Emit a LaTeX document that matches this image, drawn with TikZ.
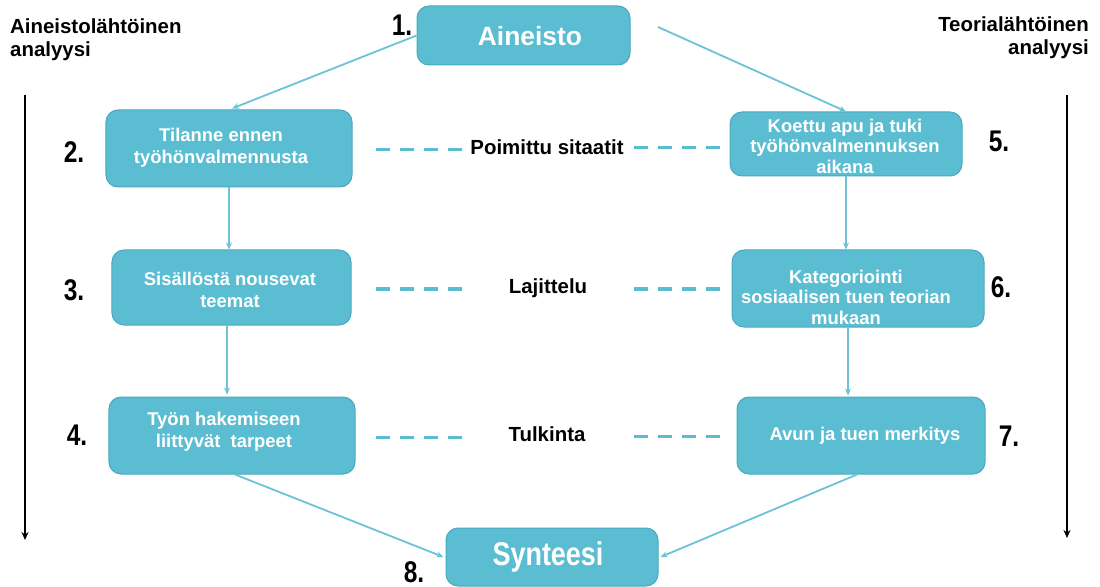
\documentclass[tikz,border=0pt]{standalone}
\usepackage{fontspec}
\setmainfont{Liberation Sans}
\usetikzlibrary{arrows.meta,calc}
\definecolor{boxfill}{HTML}{5BBDD1}
\definecolor{boxdraw}{HTML}{4BA9BF}
\definecolor{connc}{HTML}{6CC3D5}
\newcommand\narrowtxt[1]{\scalebox{0.82}[1]{#1}}
\begin{document}
\begin{tikzpicture}[x=1bp,y=-1bp,
  box/.style={draw=boxdraw, fill=boxfill, line width=1bp, rounded corners=12bp, inner sep=0pt},
  boxtext/.style={text=white, font=\bfseries\fontsize{18.5}{22}\selectfont, align=center, inner sep=0pt},
  boxtextb/.style={text=white, font=\bfseries\fontsize{18.5}{20.5}\selectfont, align=center, inner sep=0pt},
  bigtext/.style={text=white, font=\bfseries\fontsize{26.5}{26}\selectfont, inner sep=0pt},
  num/.style={font=\bfseries\fontsize{30}{30}\selectfont, inner sep=0pt},
  mid/.style={font=\bfseries\fontsize{20.5}{22}\selectfont, inner sep=0pt, anchor=base},
  head/.style={font=\bfseries\fontsize{20.5}{23}\selectfont, inner sep=0pt},
  conn/.style={draw=connc, line width=1.8bp, -{Stealth[length=7bp,width=6bp]}},
  dashline/.style={draw=boxfill, line width=3bp, dash pattern=on 14bp off 10bp},
  axis/.style={draw=black, line width=1.8bp, -{Stealth[length=8bp,width=7bp]}}]
\useasboundingbox (0,0) rectangle (1100,587);

% boxes
\node[box, minimum width=213bp, minimum height=59bp] (a1) at (523.5,35.5) {};
\node[box, minimum width=246bp, minimum height=77bp] (b2) at (229,148.5) {};
\node[box, minimum width=239bp, minimum height=75bp] (b3) at (231.5,287.5) {};
\node[box, minimum width=246bp, minimum height=77bp] (b4) at (232,435.5) {};
\node[box, minimum width=232bp, minimum height=64bp] (b5) at (846,144) {};
\node[box, minimum width=252bp, minimum height=77bp] (b6) at (858,288.5) {};
\node[box, minimum width=248bp, minimum height=77bp] (b7) at (861,435.5) {};
\node[box, minimum width=212bp, minimum height=58bp] (s8) at (552,557) {};

% box texts
\node[bigtext] (t1) at (530,36) {Aineisto};
\node[boxtext] (t2) at (221,148) {Tilanne ennen\\työhönvalmennusta};
\node[boxtext] (t3) at (230,290) {Sisällöstä nousevat\\teemat};
\node[boxtext] (t4) at (224,432) {Työn hakemiseen\\liittyvät\ \ tarpeet};
\node[boxtextb] (t5) at (845,146) {Koettu apu ja tuki\\työhönvalmennuksen\\aikana};
\node[boxtextb] (t6) at (846,297) {Kategoriointi\\sosiaalisen tuen teorian\\mukaan};
\node[boxtext] (t7) at (865,436) {Avun ja tuen merkitys};
\node[text=white, font=\bfseries\fontsize{33}{33}\selectfont, inner sep=0pt] (t8) at (548,557) {\narrowtxt{Synteesi}};

% numbers
\node[num] (n1) at (402,25) {\narrowtxt{1.}};
\node[num] (n2) at (74,152) {\narrowtxt{2.}};
\node[num] (n3) at (74,290) {\narrowtxt{3.}};
\node[num] (n4) at (77,435) {\narrowtxt{4.}};
\node[num] (n5) at (999,141) {\narrowtxt{5.}};
\node[num] (n6) at (1001,287) {\narrowtxt{6.}};
\node[num] (n7) at (1009,436) {\narrowtxt{7.}};
\node[num] (n8) at (414,572) {\narrowtxt{8.}};

% headings
\node[head, anchor=north west, align=left] (hl) at (10,19) {Aineistolähtöinen\\analyysi};
\node[head, anchor=north east, align=right] (hr) at (1089,17) {Teorialähtöinen\\analyysi};

% middle labels
\node[mid] (m1) at (547,155) {Poimittu sitaatit};
\node[mid] (m2) at (548,294) {Lajittelu};
\node[mid] (m3) at (547,441) {Tulkinta};

% dashed lines
\coordinate (d1a) at (376,150); \coordinate (d1b) at (462,150);
\coordinate (d1c) at (634,148); \coordinate (d1d) at (720,148);
\coordinate (d2a) at (376,289); \coordinate (d2b) at (462,289);
\coordinate (d2c) at (634,289); \coordinate (d2d) at (720,289);
\coordinate (d3a) at (376,437); \coordinate (d3b) at (462,437);
\coordinate (d3c) at (634,436); \coordinate (d3d) at (720,436);
\draw[dashline] (d1a) -- (d1b);
\draw[dashline] (d1c) -- (d1d);
\draw[dashline] (d2a) -- (d2b);
\draw[dashline] (d2c) -- (d2d);
\draw[dashline] (d3a) -- (d3b);
\draw[dashline] (d3c) -- (d3d);

% connectors
\coordinate (a1r) at (658,27);
\draw[conn] (a1.west) -- ($(b2.north)+(3,-1)$);
\draw[conn] (a1r) -- (b5.north);
\draw[conn] (b2.south) -- (b2.south |- b3.north);
\draw[conn] ($(b3.south)+(-4.5,0)$) -- ($(b3.south |- b4.north)+(-4.5,-2)$);
\draw[conn] (b5.south) -- (b5.south |- b6.north);
\draw[conn] ($(b6.south)+(-10,0)$) -- ($(b6.south |- b7.north)+(-10,-1)$);
\draw[conn] ($(b4.south)+(3,0)$) -- ($(s8.west)+(-2,0)$);
\draw[conn] ($(b7.south)+(-4,0)$) -- ($(s8.east)+(2,0)$);

% side arrows
\coordinate (la1) at (25,95); \coordinate (la2) at (25,540);
\coordinate (ra1) at (1067,95); \coordinate (ra2) at (1067,538);
\draw[axis] (la1) -- (la2);
\draw[axis] (ra1) -- (ra2);
\end{tikzpicture}
\end{document}
